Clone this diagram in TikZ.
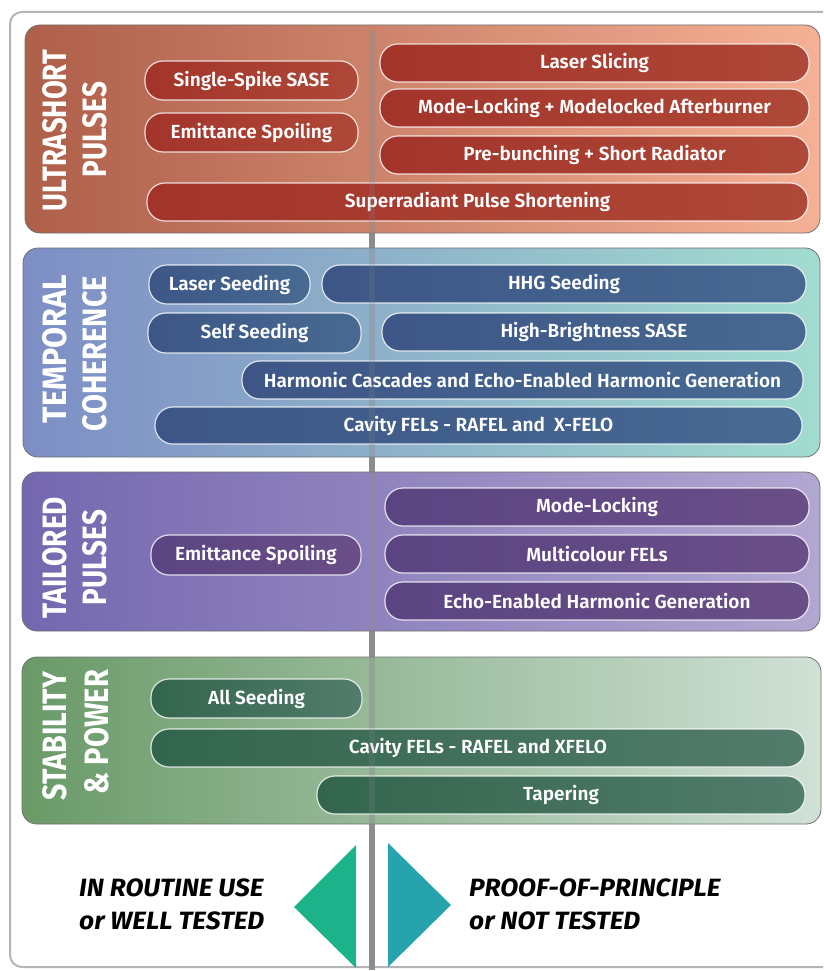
\documentclass[tikz,border=0pt]{standalone}
\usepackage{fontspec}
\setmainfont{Fira Sans}
\newfontfamily\barfont{Fira Sans SemiBold}
\newfontfamily\footfont{Fira Sans}[FakeStretch=1.05]
\usepackage{graphicx}
\definecolor{framec}{HTML}{B4B4B8}
\definecolor{linegray}{HTML}{8C8C90}
\definecolor{panelb}{HTML}{707070}
\definecolor{usL}{HTML}{AE5F49}\definecolor{usM}{HTML}{EE7E5F}\definecolor{usR}{HTML}{F5B196}
\definecolor{tcL}{HTML}{7D8EC5}\definecolor{tcM}{HTML}{8CBCC8}\definecolor{tcR}{HTML}{A2DCD0}
\definecolor{tpL}{HTML}{7467AF}\definecolor{tpM}{HTML}{8A98C8}\definecolor{tpR}{HTML}{B2A7D1}
\definecolor{spL}{HTML}{6A9A68}\definecolor{spM}{HTML}{78A86E}\definecolor{spR}{HTML}{D0E1D6}
\definecolor{rbL}{HTML}{A3342A}\definecolor{rbR}{HTML}{AE4838}
\definecolor{bbL}{HTML}{3D5687}\definecolor{bbR}{HTML}{476A92}
\definecolor{pbL}{HTML}{5A4582}\definecolor{pbR}{HTML}{6A4E88}
\definecolor{gbL}{HTML}{33654D}\definecolor{gbR}{HTML}{527C6C}
\definecolor{triL}{HTML}{1DB38A}\definecolor{triR}{HTML}{26A3AC}
\newcommand\fbar[7]{\node[#1, minimum width={#5-#3}, minimum height={#6-#4}] (#2) at ({(#3+#5)/2},{(#4+#6)/2}) {#7};}
\begin{document}
\begin{tikzpicture}[x=1pt,y=-1pt,
  panel/.style={rounded corners=15pt, draw=panelb, line width=0.8pt},
  barbase/.style={rectangle, rounded corners=18pt, draw=white, draw opacity=0.8, line width=1.2pt,
    text=white, font=\barfont\fontsize{19}{22}\selectfont, inner sep=0pt},
  rb/.style={barbase, left color=rbL, right color=rbR},
  bb/.style={barbase, left color=bbL, right color=bbR},
  pb/.style={barbase, left color=pbL, right color=pbR},
  gb/.style={barbase, left color=gbL, right color=gbR},
  head/.style={rotate=90, text=white, font=\bfseries, inner sep=0pt},
  foot/.style={anchor=west, text=black, font=\footfont\bfseries\itshape\fontsize{25}{28}\selectfont, inner sep=0pt},
  vline/.style={line width=6pt, color=linegray}]
\useasboundingbox (0,0) rectangle (823,971);
\clip (0,0) rectangle (823,971);
% outer frame
\draw[framec, line width=2pt, rounded corners=12pt] (10,12) rectangle (850,967);
% centre line
\coordinate (ltop) at (371.5,30);
\coordinate (lbot) at (371.5,970);
\draw[vline] (ltop) -- (lbot);
% panels
\shadedraw[panel, left color=usL, middle color=usM, right color=usR] (25,25) rectangle (820,233);
\shadedraw[panel, left color=tcL, middle color=tcM, right color=tcR] (23,248) rectangle (820,457);
\shadedraw[panel, left color=tpL, middle color=tpM, right color=tpR] (22,472) rectangle (820,631);
\shadedraw[panel, left color=spL, middle color=spM, right color=spR] (22,657) rectangle (821,824);
\draw[vline, opacity=0.3] (ltop) -- (lbot);
% headings
\node[head] (h1a) at (55,130.5) {\resizebox{161pt}{24pt}{ULTRASHORT}};
\node[head] (h1b) at (94.5,129.5) {\resizebox{95pt}{24pt}{PULSES}};
\node[head] (h2a) at (55,349) {\resizebox{148pt}{24pt}{TEMPORAL}};
\node[head] (h2b) at (94.5,353.5) {\resizebox{155pt}{24pt}{COHERENCE}};
\node[head] (h3a) at (55,557.5) {\resizebox{121pt}{24pt}{TAILORED}};
\node[head] (h3b) at (94.5,557.5) {\resizebox{95pt}{24pt}{PULSES}};
\node[head] (h4a) at (55,736) {\resizebox{128pt}{24pt}{STABILITY}};
\node[head] (h4b) at (96.5,732) {\resizebox{124pt}{24pt}{\&~POWER}};
% ultrashort pulses
\fbar{rb}{us1}{145}{61}{358}{100}{Single-Spike SASE}
\fbar{rb}{us2}{145}{113}{358}{152}{Emittance Spoiling}
\fbar{rb}{us3}{380}{44}{809}{82}{Laser Slicing}
\fbar{rb}{us4}{380}{89}{809}{127}{Mode-Locking + Modelocked Afterburner}
\fbar{rb}{us5}{380}{136}{809}{174}{Pre-bunching + Short Radiator}
\fbar{rb}{us6}{147}{183}{808}{221}{Superradiant Pulse Shortening}
% temporal coherence
\fbar{bb}{tc1}{149}{265}{310}{304}{Laser Seeding}
\fbar{bb}{tc2}{322}{265}{806}{303}{HHG Seeding}
\fbar{bb}{tc3}{148}{313}{361}{353}{Self Seeding}
\fbar{bb}{tc4}{382}{313}{806}{351}{High-Brightness SASE}
\fbar{bb}{tc5}{242}{361}{803}{399}{Harmonic Cascades and Echo-Enabled Harmonic Generation}
\fbar{bb}{tc6}{155}{407}{802}{444}{Cavity FELs - RAFEL and\ \ X-FELO}
% tailored pulses
\fbar{pb}{tp1}{151}{535}{361}{575}{Emittance Spoiling}
\fbar{pb}{tp2}{385}{488}{809}{526}{Mode-Locking}
\fbar{pb}{tp3}{385}{535}{809}{573}{Multicolour FELs}
\fbar{pb}{tp4}{385}{582}{809}{620}{Echo-Enabled Harmonic Generation}
% stability & power
\fbar{gb}{sp1}{151}{679}{362}{718}{All Seeding}
\fbar{gb}{sp2}{151}{729}{805}{767}{Cavity FELs - RAFEL and XFELO}
\fbar{gb}{sp3}{317}{776}{805}{814}{Tapering}
\draw[vline, opacity=0.18] (ltop) -- (lbot);
% legend triangles
\fill[triL] (356,845) -- (356,968) -- (294,907) -- cycle;
\fill[triR] (388,843) -- (388,967) -- (451,905) -- cycle;
\node[foot] (f1) at (79,888) {IN ROUTINE USE};
\node[foot] (f2) at (79,921) {or WELL TESTED};
\node[foot] (f3) at (469,888) {PROOF-OF-PRINCIPLE};
\node[foot] (f4) at (469,921) {or NOT TESTED};
\end{tikzpicture}
\end{document}
